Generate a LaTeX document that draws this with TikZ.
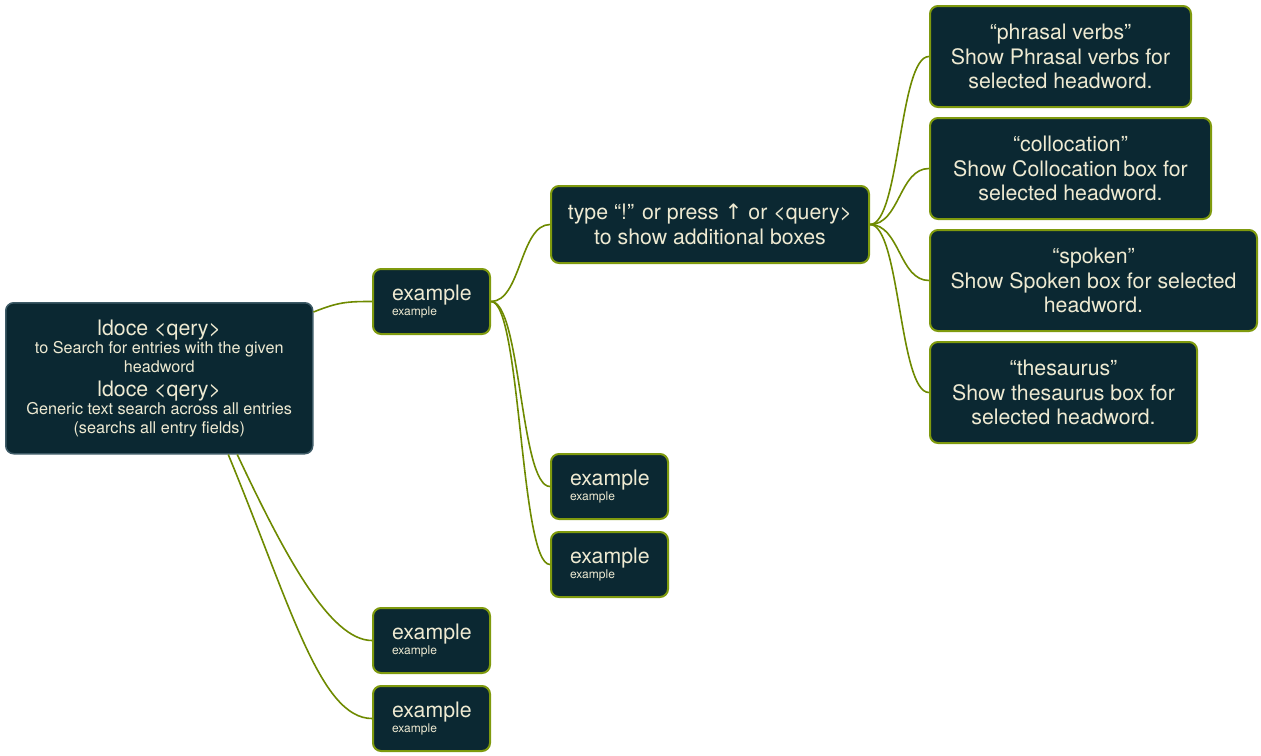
\documentclass[tikz,border=0pt]{standalone}
\usepackage{fontspec}
\setmainfont{TeX Gyre Heros}
\newfontfamily\symfont{DejaVu Sans}
\usepackage{tikz}

\definecolor{boxfill}{HTML}{0B2832}
\definecolor{boxedge}{HTML}{7F9A0E}
\definecolor{rootedge}{HTML}{3D5A66}
\definecolor{boxtext}{HTML}{EEEAD2}
\definecolor{linkcol}{HTML}{6E8A00}

\newcommand{\bigtxt}{\fontsize{21.3}{24.5}\selectfont}
\newcommand{\midtxt}{\fontsize{16.2}{19}\selectfont}
\newcommand{\smalltxt}{\fontsize{12}{13}\selectfont}

\begin{document}
\begin{tikzpicture}[x=1pt, y=-1pt,
    card/.style={draw=boxedge, line width=2pt, fill=boxfill, rounded corners=8pt,
        text=boxtext, anchor=north west, align=center, inner sep=0pt, font=\bigtxt},
    rootcard/.style={card, draw=rootedge, line width=1.5pt, font=\midtxt},
    excard/.style={card, align=left, text width=79pt, inner xsep=19pt,
        minimum height=65pt},
    link/.style={draw=linkcol, line width=1.6pt}]
    \useasboundingbox (0,0) rectangle (1261,755);

    % Root
    \node[rootcard, minimum width=307pt, minimum height=151pt] (root) at (5,302)
        {{\bigtxt ldoce <qery>}\\[-1pt]
         to Search for entries with the given\\ headword\\[5pt]
         {\bigtxt ldoce <qery>}\\[-1pt]
         Generic text search across all entries\\ (searchs all entry fields)};

    % First level
    \node[excard] (ex1) at (372,268) {example\\[-9.5pt]{\smalltxt example}};
    \node[excard] (ex4) at (372,607) {example\\[-9.5pt]{\smalltxt example}};
    \node[excard] (ex5) at (372,685) {example\\[-9.5pt]{\smalltxt example}};

    % Second level
    \node[card, minimum width=318pt, minimum height=77pt] (boxes) at (550,185)
        {type “!” or press {\symfont ↑} or <query>\\ to show additional boxes};
    \node[excard] (ex2) at (550,453) {example\\[-9.5pt]{\smalltxt example}};
    \node[excard] (ex3) at (550,531) {example\\[-9.5pt]{\smalltxt example}};

    % Additional boxes
    \node[card, minimum width=261pt, minimum height=101pt] (phrasal) at (929,5)
        {“phrasal verbs”\\ Show Phrasal verbs for\\ selected headword.};
    \node[card, minimum width=281pt, minimum height=101pt] (colloc) at (929,117)
        {“collocation”\\ Show Collocation box for\\ selected headword.};
    \node[card, minimum width=327pt, minimum height=101pt] (spoken) at (929,229)
        {“spoken”\\ Show Spoken box for selected\\ headword.};
    \node[card, minimum width=267pt, minimum height=101pt] (thes) at (929,341)
        {“thesaurus”\\ Show thesaurus box for\\ selected headword.};

    % Links
    \draw[link] ([yshift=-10pt]root.north east) .. controls +(25,-10) and +(-25,0) .. (ex1.west);
    \draw[link] ([xshift=78pt]root.south) .. controls +(47,100) and +(-42,0) .. (ex4.west);
    \draw[link] ([xshift=69pt]root.south) .. controls +(62,150) and +(-52,0) .. (ex5.west);

    \draw[link] (ex1.east) .. controls +(30,0) and +(-30,0) .. (boxes.west);
    \draw[link] (ex1.east) .. controls +(30,0) and +(-30,0) .. (ex2.west);
    \draw[link] (ex1.east) .. controls +(30,0) and +(-30,0) .. (ex3.west);

    \foreach \target in {phrasal, colloc, spoken, thes}
        \draw[link] (boxes.east) .. controls +(30,0) and +(-30,0) .. (\target.west);
\end{tikzpicture}
\end{document}
